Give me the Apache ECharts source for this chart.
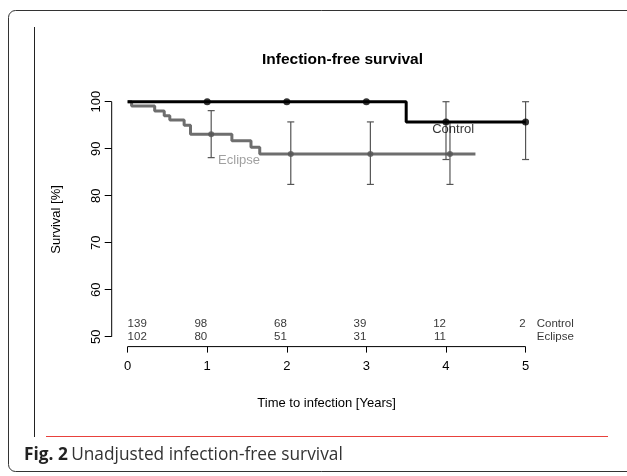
<!DOCTYPE html>
<html>
<head>
<meta charset="utf-8">
<script src="https://cdn.jsdelivr.net/npm/echarts@6/dist/echarts.min.js"></script>
<style>
html,body{margin:0;padding:0;background:#fff;}
#chart{width:627px;height:476px;}
</style>
</head>
<body>
<div id="chart"></div>
<script>
// ---- data ----
var title = 'Infection-free survival';
var xTicks = [0, 1, 2, 3, 4, 5];
var yTicks = [50, 60, 70, 80, 90, 100];
var xName = 'Time to infection [Years]';
var yName = 'Survival [%]';
var groupNames = ['Control', 'Eclipse'];

// Kaplan-Meier step curves [time, survival %]
var controlCurve = [[0, 100], [3.5, 95.7], [5, 95.7]];
var eclipseCurve = [[0, 100], [0.05, 99.1], [0.34, 98.0], [0.46, 97.0], [0.53, 96.1],
  [0.71, 95.0], [0.79, 93.1], [1.31, 91.7], [1.55, 90.3], [1.66, 88.9], [4.37, 88.9]];

// point estimates with confidence limits [time, estimate, lower, upper]
var controlPoints = [[1, 100, 100, 100], [2, 100, 100, 100], [3, 100, 100, 100],
  [4, 95.7, 87.7, 100], [5, 95.7, 87.7, 100]];
var eclipsePoints = [[1.05, 93.1, 88.1, 98.1], [2.05, 88.9, 82.4, 95.7],
  [3.05, 88.9, 82.4, 95.7], [4.05, 88.9, 82.4, 95.7]];

// numbers at risk
var riskTimes = [0, 1, 2, 3, 4, 5];
var controlAtRisk = [139, 98, 68, 39, 12, 2];
var eclipseAtRisk = [102, 80, 51, 31, 11, null];

var caption = 'Unadjusted infection-free survival';
var figLabel = 'Fig. 2';

// ---- layout ----
var X_MIN = -0.2, X_MAX = 5.2, Y_MIN = 47.9, Y_MAX = 102;
var FONT = '"Liberation Sans", Arial, sans-serif';
var rowY = [52.7, 49.9];       // risk table rows (data units)
var rowLabelX = 5.14;
var curveLabels = [[4.09, 94.1, 'Control', '#000'], [1.40, 87.6, 'Eclipse', '#888']];

function riskData(arr, row) {
  var out = [];
  arr.forEach(function (v, i) {
    if (v === null) return;
    out.push({ value: [riskTimes[i], rowY[row]], label: { formatter: String(v), align: i === 0 ? 'left' : 'right' } });
  });
  return out;
}

function errorBarSeries(points, color) {
  return {
    type: 'custom',
    data: points.filter(function (p) { return p[3] > p[2]; }).map(function (p) { return [p[0], p[2], p[3]]; }),
    encode: { x: 0, y: [1, 2] },
    clip: false,
    z: 3,
    renderItem: function (params, api) {
      var lo = api.coord([api.value(0), api.value(1)]);
      var hi = api.coord([api.value(0), api.value(2)]);
      var w = 3.5;
      var st = { stroke: color, lineWidth: 1.2 };
      return {
        type: 'group',
        children: [
          { type: 'line', shape: { x1: lo[0], y1: lo[1], x2: hi[0], y2: hi[1] }, style: st },
          { type: 'line', shape: { x1: lo[0] - w, y1: lo[1], x2: lo[0] + w, y2: lo[1] }, style: st },
          { type: 'line', shape: { x1: hi[0] - w, y1: hi[1], x2: hi[0] + w, y2: hi[1] }, style: st }
        ]
      };
    }
  };
}

// axis lines spanning only the tick range: [x1, y1, x2, y2] in data units
var axisSegments = [
  [xTicks[0], Y_MIN, xTicks[xTicks.length - 1], Y_MIN],
  [X_MIN, yTicks[0], X_MIN, yTicks[yTicks.length - 1]]
];

var chart = echarts.init(document.getElementById('chart'), null, { renderer: 'canvas' });
var option = {
  animation: false,
  backgroundColor: '#fff',
  textStyle: { fontFamily: FONT },
  grid: { left: 111.7, top: 92.3, width: 429.8, height: 254.3, containLabel: false },
  xAxis: {
    type: 'value', min: X_MIN, max: X_MAX,
    axisLine: { show: false, onZero: false },
    splitLine: { show: false },
    axisTick: { show: true, customValues: xTicks, length: 6, lineStyle: { color: '#000', width: 1 } },
    axisLabel: { customValues: xTicks, margin: 13, color: '#000', fontSize: 13, fontFamily: FONT },
    name: xName, nameLocation: 'middle', nameGap: 50,
    nameTextStyle: { color: '#000', fontSize: 13, fontFamily: FONT }
  },
  yAxis: {
    type: 'value', min: Y_MIN, max: Y_MAX,
    axisLine: { show: false, onZero: false },
    splitLine: { show: false },
    axisTick: { show: true, customValues: yTicks, length: 7, lineStyle: { color: '#000', width: 1 } },
    axisLabel: { customValues: yTicks, rotate: 90, margin: 9, color: '#000', fontSize: 13, fontFamily: FONT },
    name: yName, nameLocation: 'middle', nameGap: 49, nameRotate: 90,
    nameTextStyle: { color: '#000', fontSize: 13, fontFamily: FONT }
  },
  series: [
    {
      type: 'custom', clip: false, silent: true, z: 1,
      data: axisSegments,
      encode: { x: [0, 2], y: [1, 3] },
      renderItem: function (params, api) {
        var a = api.coord([api.value(0), api.value(1)]);
        var b = api.coord([api.value(2), api.value(3)]);
        return { type: 'line', shape: { x1: a[0], y1: a[1], x2: b[0], y2: b[1] }, style: { stroke: '#000', lineWidth: 1 } };
      }
    },
    // survival curves
    { type: 'line', name: 'Eclipse', data: eclipseCurve, step: 'end', symbol: 'none', z: 2,
      lineStyle: { color: '#6e6e6e', width: 3 } },
    { type: 'line', name: 'Control', data: controlCurve, step: 'end', symbol: 'none', z: 4,
      lineStyle: { color: '#000', width: 3 } },
    errorBarSeries(eclipsePoints, '#555'),
    errorBarSeries(controlPoints, '#555'),
    { type: 'scatter', data: eclipsePoints.map(function (p) { return [p[0], p[1]]; }), symbolSize: 6, z: 5,
      itemStyle: { color: '#555' } },
    { type: 'scatter', data: controlPoints.map(function (p) { return [p[0], p[1]]; }), symbolSize: 7, z: 6,
      itemStyle: { color: '#000' } },
    // curve labels
    { type: 'scatter', symbolSize: 0, z: 7, silent: true,
      data: curveLabels.map(function (l) {
        return { value: [l[0], l[1]], label: { show: true, formatter: l[2], color: l[3], position: 'inside', fontSize: 13, fontFamily: FONT } };
      }) },
    // risk table
    { type: 'scatter', symbolSize: 0, silent: true, clip: false,
      label: { show: true, position: 'inside', color: '#000', fontSize: 11.5, fontFamily: FONT },
      data: riskData(controlAtRisk, 0) },
    { type: 'scatter', symbolSize: 0, silent: true, clip: false,
      label: { show: true, position: 'inside', color: '#000', fontSize: 11.5, fontFamily: FONT },
      data: riskData(eclipseAtRisk, 1) },
    { type: 'scatter', symbolSize: 0, silent: true, clip: false,
      label: { show: true, position: 'inside', color: '#000', fontSize: 11.5, fontFamily: FONT, align: 'left' },
      data: groupNames.map(function (g, i) { return { value: [rowLabelX, rowY[i]], label: { formatter: g } }; }) }
  ],
  graphic: [
    { type: 'rect', shape: { x: 8.5, y: 10.5, width: 640, height: 461, r: 7 }, silent: true,
      style: { fill: 'none', stroke: '#333', lineWidth: 1 } },
    { type: 'line', shape: { x1: 34.5, y1: 27, x2: 34.5, y2: 437 }, silent: true,
      style: { stroke: '#222', lineWidth: 1 } },
    { type: 'line', shape: { x1: 46, y1: 436.5, x2: 608, y2: 436.5 }, silent: true,
      style: { stroke: '#e8413c', lineWidth: 1 } },
    { type: 'text', x: 342.5, y: 60, silent: true,
      style: { text: title, fill: '#000', font: 'bold 15.5px ' + FONT, textAlign: 'center', textVerticalAlign: 'middle' } },
    { type: 'text', x: 24, y: 455, silent: true,
      style: {
        text: '{b|' + figLabel + '} {n|' + caption + '}',
        textVerticalAlign: 'middle',
        rich: {
          b: { fontFamily: '"Open Sans", sans-serif', fontWeight: 'bold', fontSize: 17.3, fill: '#222' },
          n: { fontFamily: '"Open Sans", sans-serif', fontSize: 17.3, fill: '#333' }
        }
      } }
  ]
};
chart.setOption(option);
</script>
</body>
</html>
